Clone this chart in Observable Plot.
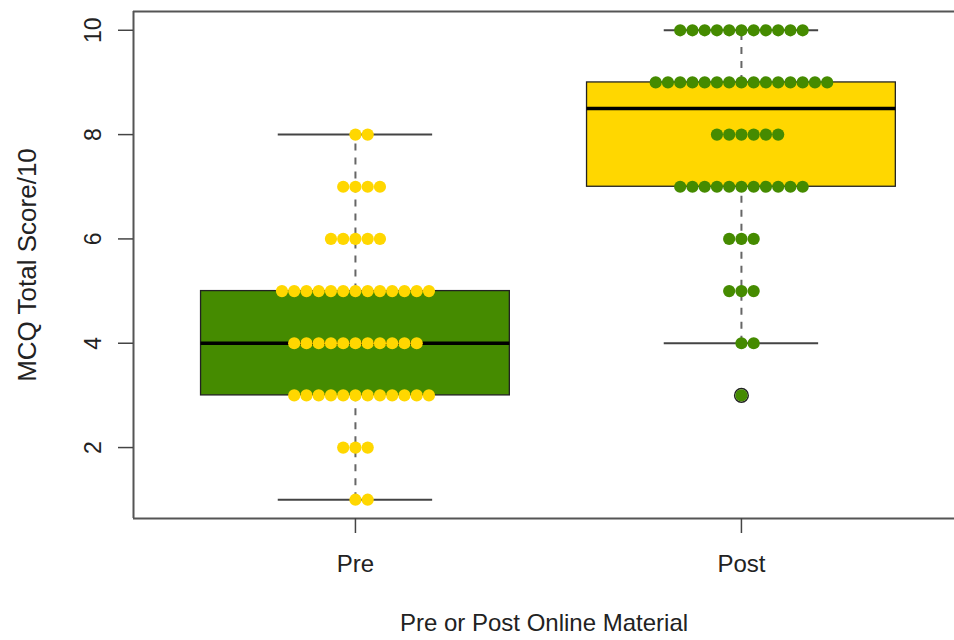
<!DOCTYPE html>
<html><head><meta charset="utf-8">
<script src="https://cdn.jsdelivr.net/npm/d3@7"></script>
<script src="https://cdn.jsdelivr.net/npm/@observablehq/plot@0.6"></script>
<style>html,body{margin:0;padding:0;background:#fff;overflow:hidden}</style>
</head><body><div id="chart"></div>
<script>
const groups = ["Pre", "Post"];
const scores = [1, 2, 3, 4, 5, 6, 7, 8, 9, 10];
const preCounts  = [2, 3, 12, 11, 13, 5, 4, 2, 0, 0];
const postCounts = [0, 0, 1, 2, 3, 3, 11, 6, 15, 11];
const boxFill = ["#458B00", "#FFD700"];
const dotFill = ["#FFD700", "#458B00"];
const yTicks = [2, 4, 6, 8, 10];
const xTitle = "Pre or Post Online Material";
const yTitle = "MCQ Total Score/10";

const W = 954, H = 640, mL = 133, mR = 0, mT = 11, mB = 122;
const xDomain = [0.425, 2.552], yDomain = [0.64, 10.36];
const pxPerX = (W - mL - mR) / (xDomain[1] - xDomain[0]);
const dotR = 6.1, dotStep = 12.25 / pxPerX;
const font = "'Liberation Sans', Arial, Helvetica, sans-serif";

const countsBy = [preCounts, postCounts];
const dots = [], stats = [], outliers = [];
function fivenum(x) {
  const n = x.length, n4 = Math.floor((n + 3) / 2) / 2;
  const d = [1, n4, (n + 1) / 2, n + 1 - n4, n];
  return d.map(v => 0.5 * (x[Math.floor(v) - 1] + x[Math.ceil(v) - 1]));
}
groups.forEach((g, gi) => {
  const vals = [];
  scores.forEach((s, si) => {
    const n = countsBy[gi][si];
    for (let k = 0; k < n; k++) {
      const off = k === 0 ? 0 : (k % 2 === 1 ? (k + 1) / 2 : -k / 2);
      dots.push({gi, x: gi + 1 + off * dotStep, y: s});
      vals.push(s);
    }
  });
  vals.sort((a, b) => a - b);
  const f = fivenum(vals);
  const iqr = f[3] - f[1];
  const inside = vals.filter(v => v >= f[1] - 1.5 * iqr && v <= f[3] + 1.5 * iqr);
  const st = {gi, pos: gi + 1, q1: f[1], med: f[2], q3: f[3], lo: d3.min(inside), hi: d3.max(inside)};
  stats.push(st);
  Array.from(new Set(vals.filter(v => v < st.lo || v > st.hi))).forEach(v => outliers.push({x: gi + 1, y: v}));
});

const chart = Plot.plot({
  width: W, height: H,
  marginLeft: mL, marginRight: mR, marginTop: mT, marginBottom: mB,
  style: {fontFamily: font, background: "white", color: "#222"},
  x: {type: "linear", domain: xDomain, axis: null},
  y: {domain: yDomain, axis: null},
  marks: [
    Plot.rect(stats, {x1: d => d.pos - 0.4, x2: d => d.pos + 0.4, y1: "q1", y2: "q3", fill: d => boxFill[d.gi], stroke: "#222", strokeWidth: 1.3}),
    Plot.ruleY(stats, {y: "med", x1: d => d.pos - 0.4, x2: d => d.pos + 0.4, stroke: "#000", strokeWidth: 3.5}),
    Plot.ruleX(stats, {x: "pos", y1: "q3", y2: "hi", stroke: "#666", strokeWidth: 2, strokeDasharray: "7,7"}),
    Plot.ruleX(stats, {x: "pos", y1: "lo", y2: "q1", stroke: "#666", strokeWidth: 2, strokeDasharray: "7,7"}),
    Plot.ruleY(stats, {y: "hi", x1: d => d.pos - 0.2, x2: d => d.pos + 0.2, stroke: "#444", strokeWidth: 2}),
    Plot.ruleY(stats, {y: "lo", x1: d => d.pos - 0.2, x2: d => d.pos + 0.2, stroke: "#444", strokeWidth: 2}),
    Plot.dot(outliers, {x: "x", y: "y", r: 6.8, stroke: "#222", strokeWidth: 1.5, fill: "none"}),
    Plot.dot(dots, {x: "x", y: "y", r: dotR, fill: d => dotFill[d.gi]}),
    Plot.ruleY(yDomain, {stroke: "#555", strokeWidth: 2}),
    Plot.ruleX([xDomain[0]], {stroke: "#555", strokeWidth: 2}),
    Plot.axisX([1, 2], {tickFormat: d => groups[d - 1], tickSize: 15, tickPadding: 21, fontSize: 24, strokeWidth: 1.5, stroke: "#444", fill: "#222", label: null}),
    Plot.axisY(yTicks, {tickSize: 15, tickFormat: () => "", strokeWidth: 1.5, stroke: "#444", label: null}),
    Plot.text(yTicks, {y: d => d, text: d => String(d), frameAnchor: "left", textAnchor: "middle", lineAnchor: "middle", dx: -40, rotate: -90, fontSize: 23, fill: "#222"}),
    Plot.text([yTitle], {text: d => d, frameAnchor: "left", textAnchor: "middle", lineAnchor: "middle", dx: -106, rotate: -90, fontSize: 26, fill: "#222"}),
    Plot.text([xTitle], {text: d => d, frameAnchor: "bottom", textAnchor: "middle", lineAnchor: "middle", dy: 105, fontSize: 24, fill: "#222"})
  ]
});
document.getElementById("chart").appendChild(chart);
</script>
</body></html>
